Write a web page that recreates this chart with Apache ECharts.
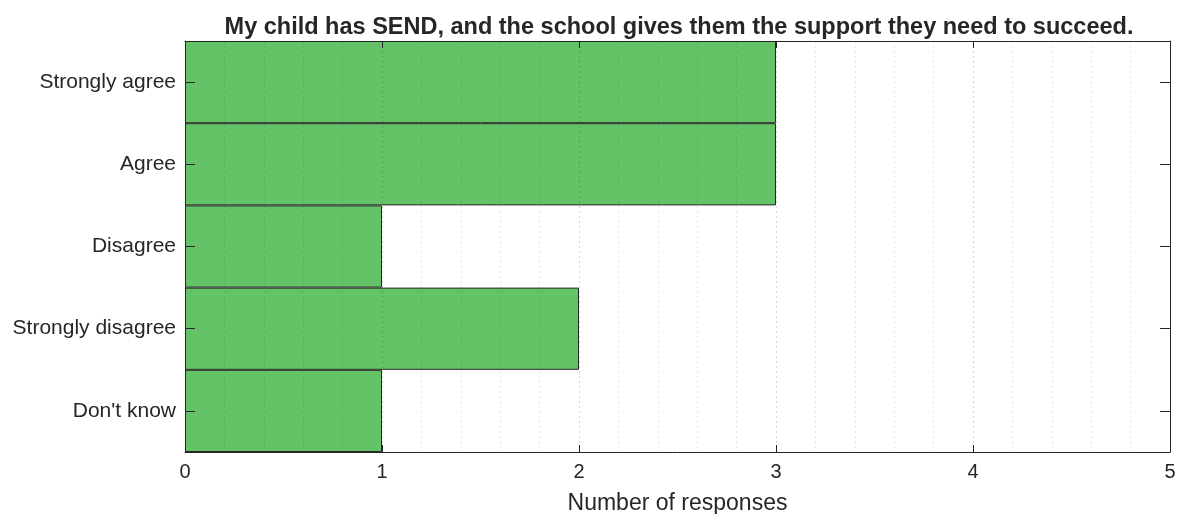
<!DOCTYPE html>
<html><head><meta charset="utf-8">
<script src="https://cdn.jsdelivr.net/npm/echarts@6/dist/echarts.min.js"></script>
<style>html,body{margin:0;padding:0;background:#fff}#c{width:1182px;height:514px}</style>
</head><body><div id="c"></div>
<script>
const categories = ["Strongly agree", "Agree", "Disagree", "Strongly disagree", "Don't know"];
const responses = [3, 3, 1, 2, 1];
const xTicks = [0, 1, 2, 3, 4, 5];
const titleText = "My child has SEND, and the school gives them the support they need to succeed.";
const xName = "Number of responses";

const font = "Liberation Sans, Arial, sans-serif";
const ink = "#262626";
const chart = echarts.init(document.getElementById('c'), null, {renderer: 'canvas'});
chart.setOption({
  animation: false,
  title: {text: titleText, left: 674, textAlign: 'center', top: 11,
    textStyle: {fontFamily: font, fontSize: 23.5, fontWeight: 'bold', color: ink}},
  grid: {left: 185, right: 12, top: 41, bottom: 62, outerBoundsMode: 'none', containLabel: false},
  xAxis: [{
    type: 'value', min: xTicks[0], max: xTicks[xTicks.length - 1], interval: 1, position: 'bottom', z: 1,
    axisLine: {show: true, onZero: false, lineStyle: {color: ink, width: 1}},
    axisTick: {show: true, inside: true, length: 7, lineStyle: {color: ink}},
    axisLabel: {fontFamily: font, fontSize: 20, color: ink, margin: 10},
    splitLine: {show: false},
    name: xName, nameLocation: 'middle', nameGap: 40,
    nameTextStyle: {fontFamily: font, fontSize: 23, color: ink}
  }, {
    type: 'value', min: xTicks[0], max: xTicks[xTicks.length - 1], interval: 1, position: 'top', z: 10,
    axisLine: {show: true, onZero: false, lineStyle: {color: ink, width: 1}},
    axisTick: {show: true, inside: true, length: 7, lineStyle: {color: ink}},
    axisLabel: {show: false},
    splitLine: {show: true, lineStyle: {color: 'rgba(0,0,0,0.16)', type: [2, 3], width: 1}},
    minorTick: {show: false, splitNumber: 5},
    minorSplitLine: {show: true, lineStyle: {color: 'rgba(0,0,0,0.10)', type: [2, 3], width: 1}}
  }],
  yAxis: [{
    type: 'category', data: categories, inverse: true, position: 'left', z: 10,
    axisLine: {show: true, onZero: false, lineStyle: {color: ink}},
    axisTick: {show: true, inside: true, alignWithLabel: true, length: 10, lineStyle: {color: ink}},
    axisLabel: {fontFamily: font, fontSize: 21, color: ink, margin: 9},
    splitLine: {show: false}
  }, {
    type: 'category', data: categories, inverse: true, position: 'right', z: 10,
    axisLine: {show: true, onZero: false, lineStyle: {color: ink}},
    axisTick: {show: true, inside: true, alignWithLabel: true, length: 10, lineStyle: {color: ink}},
    axisLabel: {show: false},
    splitLine: {show: false}
  }],
  series: [{
    type: 'bar', data: responses, xAxisIndex: 0, yAxisIndex: 0,
    barCategoryGap: '0%', barWidth: '100%',
    itemStyle: {color: '#64c366', borderColor: ink, borderWidth: 1}
  }]
});
</script></body></html>
